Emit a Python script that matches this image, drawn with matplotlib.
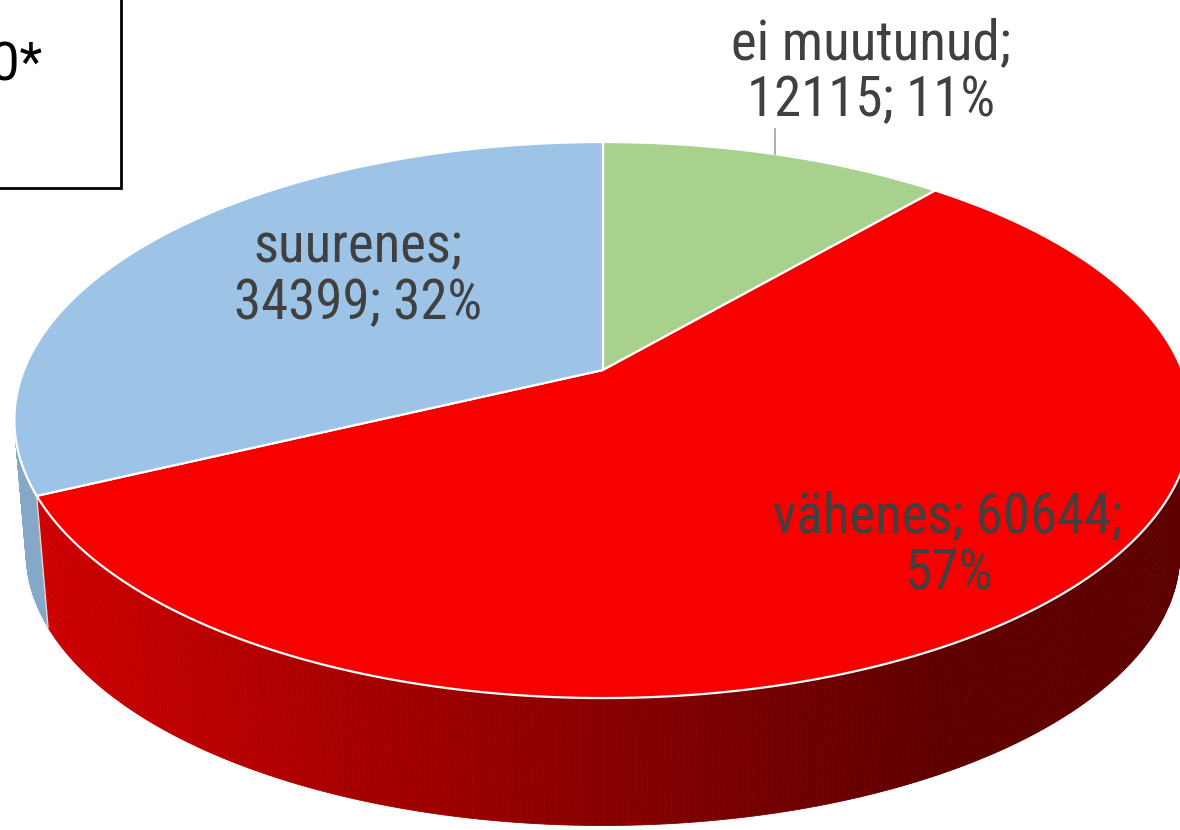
import numpy as np
import matplotlib
matplotlib.use("Agg")
import matplotlib.pyplot as plt
from matplotlib.patches import Polygon, Rectangle
from matplotlib import font_manager as fm

# ---- data ----
categories = ["ei muutunud", "vähenes", "suurenes"]
values = [12115, 60644, 34399]
percent_labels = ["11%", "57%", "32%"]
top_colors = ["#A9D18E", "#F80000", "#9DC3E6"]
box_text = "2020*"

names = {f.name for f in fm.fontManager.ttflist}
label_font = "Roboto Condensed" if "Roboto Condensed" in names else "Roboto"
FONT = [label_font, "DejaVu Sans"]

fig = plt.figure(figsize=(11.8, 8.3), dpi=100)
ax = fig.add_axes([0, 0, 1, 1])
ax.set_xlim(0, 1180)
ax.set_ylim(830, 0)
ax.axis("off")

# ---- 3D pie geometry (pixel space) ----
CX, CY = 603, 370
R, A, C = 579, 269, 0.18
DEPTH, S = 134, 0.98


def top(phi):
    u, v = np.cos(phi), np.sin(phi)
    d = 1 + C * v
    return CX + R * u / d, CY - A * v / d


def bottom(phi):
    x, y = top(phi)
    return CX + S * (x - CX), CY + DEPTH + S * (y - CY)


def side_color(i, x):
    if i == 1:
        r = np.clip(204 - 0.122 * (x - 50), 94, 204) / 255
        return (r, 0, 0)
    if i == 2:
        return "#86A8C8"
    return "#7E9C6A"


total = float(sum(values))
fracs = [v / total for v in values]
bounds = [np.pi / 2]
for f in fracs:
    bounds.append(bounds[-1] - 2 * np.pi * f)

# sides: collect quads, draw from back to front
quads = []
for i in range(len(values)):
    a0, a1 = bounds[i], bounds[i + 1]
    n = max(int(abs(a0 - a1) / (2 * np.pi) * 720), 4)
    ph = np.linspace(a0, a1, n + 1)
    for k in range(n):
        pa, pb = ph[k], ph[k + 1]
        pm = 0.5 * (pa + pb)
        ta, tb = top(pa), top(pb)
        ba, bb = bottom(pa), bottom(pb)
        quads.append((-np.sin(pm), i, [ta, tb, bb, ba]))
quads.sort(key=lambda q: q[0])
for _, i, pts in quads:
    xm = np.mean([p[0] for p in pts])
    col = side_color(i, xm)
    ax.add_patch(Polygon(pts, closed=True, facecolor=col, edgecolor=col,
                         linewidth=0.6, zorder=1))

# white line on the visible side seam (blue/red)
seam = bounds[2]
tx, ty = top(seam)
bx, by = bottom(seam)
ax.plot([tx, bx], [ty, by], color="white", lw=1.0, alpha=0.8, zorder=2)

# top faces
for i in range(len(values)):
    ph = np.linspace(bounds[i], bounds[i + 1], 300)
    xs, ys = top(ph)
    pts = [(CX, CY)] + list(zip(xs, ys))
    ax.add_patch(Polygon(pts, closed=True, facecolor=top_colors[i],
                         edgecolor="white", linewidth=1.6, zorder=3,
                         joinstyle="round"))

# leader line for the green slice
mid = 0.5 * (bounds[0] + bounds[1])
lx, ly = top(mid)
ax.plot([lx, lx], [ly, 129], color="#A6A6A6", lw=1.3, zorder=4)

# labels
label_pos = [(871, 72), (948, 545), (358, 275)]
label_text = [
    f"{categories[0]};\n{values[0]}; {percent_labels[0]}",
    f"{categories[1]}; {values[1]};\n{percent_labels[1]}",
    f"{categories[2]};\n{values[2]}; {percent_labels[2]}",
]
for (x, y), t in zip(label_pos, label_text):
    ax.text(x, y, t, ha="center", va="center", fontsize=39.5,
            color="#404040", family=FONT, fontstretch="condensed",
            linespacing=1.1, multialignment="center", zorder=5)

# top-left text box (cropped in the reference)
ax.add_patch(Rectangle((-10, -10), 130.5, 198, facecolor="white",
                       edgecolor="black", linewidth=2, zorder=6))
ax.text(43, 66, box_text, ha="right", va="center", fontsize=38,
        color="black", family=["Roboto", "DejaVu Sans"], zorder=7)

fig.savefig("out.png", dpi=100)
